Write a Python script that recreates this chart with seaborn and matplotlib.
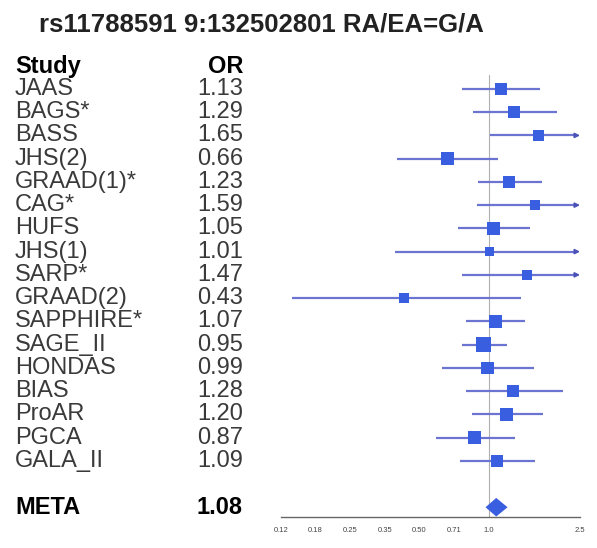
import numpy as np
import pandas as pd
import matplotlib
matplotlib.use("Agg")
import matplotlib.pyplot as plt
import matplotlib.transforms as mtransforms
import seaborn as sns

# --- data ---
studies = ["JAAS", "BAGS*", "BASS", "JHS(2)", "GRAAD(1)*", "CAG*", "HUFS", "JHS(1)",
           "SARP*", "GRAAD(2)", "SAPPHIRE*", "SAGE_II", "HONDAS", "BIAS", "ProAR",
           "PGCA", "GALA_II"]
odds_ratio = [1.13, 1.29, 1.65, 0.66, 1.23, 1.59, 1.05, 1.01,
              1.47, 0.43, 1.07, 0.95, 0.99, 1.28, 1.20, 0.87, 1.09]
ci_low = [0.77, 0.86, 1.01, 0.40, 0.90, 0.89, 0.735, 0.39,
          0.765, 0.14, 0.80, 0.765, 0.63, 0.80, 0.85, 0.59, 0.75]
ci_high = [1.67, 1.98, 3.20, 1.10, 1.71, 3.50, 1.52, 4.00,
           3.10, 1.38, 1.44, 1.20, 1.57, 2.11, 1.73, 1.30, 1.59]
weights = [9, 9, 8, 10.5, 9.5, 7.5, 10, 6.5, 7, 7, 10.5, 13.5, 9.5, 9, 10, 10.5, 9.5]

meta_or = 1.08
meta_low = 0.97
meta_high = 1.21

tick_values = [2 ** -3, 2 ** -2.5, 2 ** -2, 2 ** -1.5, 2 ** -1, 2 ** -0.5, 1.0, 2.5]
tick_labels = ["0.12", "0.18", "0.25", "0.35", "0.50", "0.71", "1.0", "2.5"]

title = "rs11788591 9:132502801 RA/EA=G/A"

x_min, x_max = 2 ** -3, 2.5

df = pd.DataFrame({"study": studies, "OR": odds_ratio, "lo": ci_low,
                   "hi": ci_high, "w": weights})
df["row"] = np.arange(len(df))
meta_row = len(df) + 1

sns.set_style("white")
plt.rcParams["font.family"] = ["Liberation Sans", "DejaVu Sans"]

fig = plt.figure(figsize=(5.97, 5.48), dpi=100)
ax = fig.add_axes([281 / 597, 31 / 548, 299 / 597, 442 / 548])

line_col = "#6b74d0"
mark_col = "#3a5ee0"

ax.axvline(1.0, color="#b0b0b0", lw=0.8, zorder=0)

for _, r in df.iterrows():
    if r["hi"] > x_max:
        # truncated interval: line with an arrowhead at the axis end
        ax.hlines(r["row"], max(r["lo"], x_min), x_max * 0.97, color=line_col, lw=1.6, zorder=1)
        ax.annotate("", xy=(x_max, r["row"]), xytext=(x_max * 0.96, r["row"]),
                    arrowprops=dict(arrowstyle="-|>", color="#4a52b8", lw=1.2,
                                    mutation_scale=7, shrinkA=0, shrinkB=0),
                    annotation_clip=False, zorder=2)
    else:
        ax.hlines(r["row"], max(r["lo"], x_min), r["hi"], color=line_col, lw=1.6, zorder=1)

sns.scatterplot(data=df, x="OR", y="row", size="w", sizes=(45, 120),
                marker="s", color=mark_col, edgecolor="none", legend=False,
                ax=ax, zorder=3)

# summary diamond
h = 0.4
ax.fill([meta_low, meta_or, meta_high, meta_or],
        [meta_row, meta_row - h, meta_row, meta_row + h],
        color=mark_col, lw=0, zorder=3)

ax.set_xscale("log")
ax.set_xlim(x_min, x_max)
ax.set_ylim(meta_row + 0.42, -0.6)
ax.set_xticks(tick_values)
ax.set_xticklabels(tick_labels, fontsize=5.5, color="#444444")
ax.minorticks_off()
ax.set_yticks([])
ax.set_xlabel("")
ax.set_ylabel("")
for s in ["left", "top", "right"]:
    ax.spines[s].set_visible(False)
ax.spines["bottom"].set_color("#666666")
ax.spines["bottom"].set_linewidth(1.0)
ax.tick_params(axis="x", direction="out", length=4, width=0.8, color="#666666", pad=3)

# text columns: x in figure coords, y in data rows
trans = mtransforms.blended_transform_factory(fig.transFigure, ax.transData)
lx = 15 / 597
rx = 243 / 597
ax.text(lx, -0.95, "Study", transform=trans, ha="left", va="center",
        fontsize=17, fontweight="bold", color="black")
ax.text(rx, -0.95, "OR", transform=trans, ha="right", va="center",
        fontsize=17, fontweight="bold", color="black")
for _, r in df.iterrows():
    ax.text(lx, r["row"], r["study"], transform=trans, ha="left", va="center",
            fontsize=17, color="#3a3a3a")
    ax.text(rx, r["row"], f"{r['OR']:.2f}", transform=trans, ha="right", va="center",
            fontsize=17, color="#3a3a3a")
ax.text(lx, meta_row, "META", transform=trans, ha="left", va="center",
        fontsize=17, fontweight="bold", color="black")
ax.text(rx, meta_row, f"{meta_or:.2f}", transform=trans, ha="right", va="center",
        fontsize=17, fontweight="bold", color="black")

fig.text(261 / 597, 1 - 24 / 548, title, ha="center", va="center",
         fontsize=18.5, fontweight="bold", color="#222222")

fig.savefig("out.png", dpi=100)
